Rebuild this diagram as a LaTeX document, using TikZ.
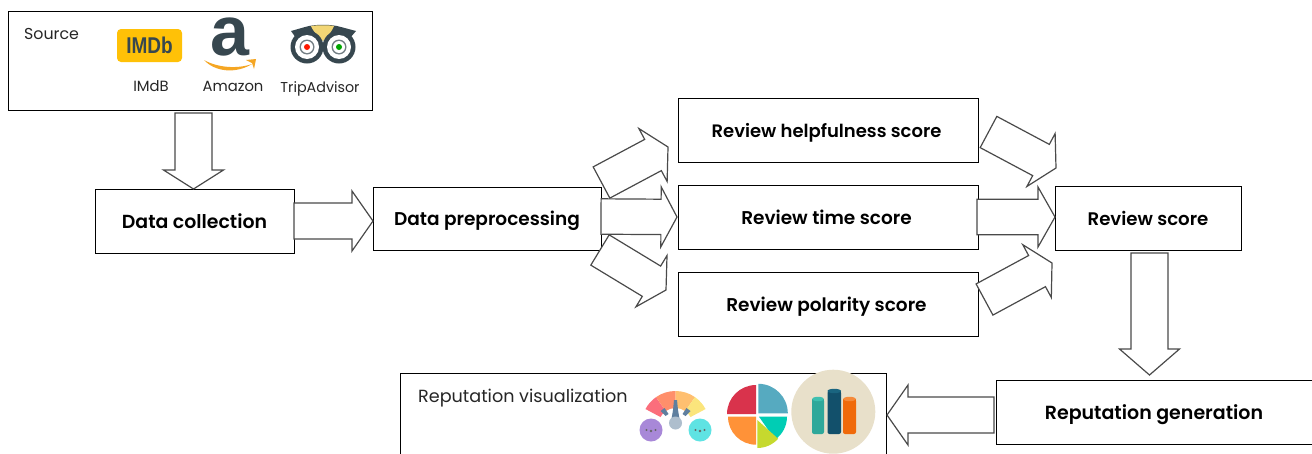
\documentclass[tikz,border=0pt]{standalone}
\usepackage{fontspec}
\setmainfont{Poppins}
\newfontfamily\boxfont{Poppins SemiBold}
\newfontfamily\logofont{Liberation Sans}
\usetikzlibrary{calc}
\definecolor{ardk}{HTML}{4A4A4A}
\definecolor{logodk}{HTML}{37474F}
\definecolor{imdbc}{HTML}{FFC107}
\definecolor{smile}{HTML}{F5A623}
\definecolor{owly}{HTML}{F2D675}
\definecolor{gaugea}{HTML}{FB6E7C}
\definecolor{gaugeb}{HTML}{FF8F6B}
\definecolor{gaugec}{HTML}{FFBF70}
\definecolor{gauged}{HTML}{FBE57C}
\definecolor{needle}{HTML}{5F7F9F}
\definecolor{hub}{HTML}{AEBECD}
\definecolor{facea}{HTML}{A888D8}
\definecolor{faceb}{HTML}{5FE3E3}
\definecolor{piea}{HTML}{D9334C}
\definecolor{pieb}{HTML}{56AAC0}
\definecolor{piec}{HTML}{FF9238}
\definecolor{pied}{HTML}{00CDB4}
\definecolor{piee}{HTML}{C6D92E}
\definecolor{disc}{HTML}{E8E0CA}
\definecolor{bara}{HTML}{2FA89A}
\definecolor{barat}{HTML}{3FC0B0}
\definecolor{barb}{HTML}{12506B}
\definecolor{barbt}{HTML}{1A6580}
\definecolor{barc}{HTML}{F06A0A}
\definecolor{barct}{HTML}{F58A3A}
\tikzset{
  box/.style={draw=black,line width=1pt,fill=white,inner sep=0pt,align=center,text height=14pt,text depth=0pt,font=\boxfont\fontsize{18.5}{20}\selectfont},
  lab/.style={inner sep=0pt,text=black!85,font=\fontsize{15.8}{18}\selectfont},
  sublab/.style={inner sep=0pt,text=black!85,font=\fontsize{14.8}{17}\selectfont},
  blockline/.style={draw=ardk,line width=1.2pt,fill=white,line join=miter},
}
\newcommand{\blockarrow}[5]{%
  \coordinate (neck) at ($(#2)!#5pt!(#1)$);
  \draw[blockline] ($(#1)!#3pt!90:(#2)$) -- ($(neck)!#3pt!-90:(#1)$) -- ($(neck)!#4pt!-90:(#1)$) -- (#2)
     -- ($(neck)!#4pt!90:(#1)$) -- ($(neck)!#3pt!90:(#1)$) -- ($(#1)!#3pt!-90:(#2)$) -- cycle;
}
\newcommand{\ringseg}[5]{%
  \fill[#5] (#1:#3) arc[start angle=#1,end angle=#2,radius=#3] -- (#2:#4) arc[start angle=#2,end angle=#1,radius=#4] -- cycle;}
\newcommand{\piesect}[6]{%
  \fill[#6] (#1,#2) -- ++(#3:#5) arc[start angle=#3,end angle=#4,radius=#5] -- cycle;}
\newcommand{\barcyl}[6]{%
  \fill[#5,rounded corners=2pt] (#1,#3) rectangle (#2,#4);
  \fill[#5] (#1,#3) rectangle (#2,#4-2);
  \fill[#6] ({(#1+#2)/2},#3) ellipse[x radius={(#2-#1)/2},y radius=2.2];}
\begin{document}
\begin{tikzpicture}[x=1pt,y=-1pt]
\useasboundingbox (0,0) rectangle (1312,453);
\clip (0,0) rectangle (1312,453);
% boxes
\node[box,minimum width=364pt,minimum height=99pt] (source) at (190,60.5) {};
\node[box,minimum width=199pt,minimum height=64pt,font=\boxfont\fontsize{18.9}{20}\selectfont] (collect) at (194.5,221) {Data collection};
\node[box,minimum width=228pt,minimum height=63pt] (prep) at (487,218.5) {Data preprocessing};
\node[box,minimum width=300pt,minimum height=64pt,font=\boxfont\fontsize{18}{20}\selectfont] (help) at (828,130) {\hspace*{-3pt}Review helpfulness score};
\node[box,minimum width=300pt,minimum height=64pt] (time) at (828,217) {\hspace*{-3pt}Review time score};
\node[box,minimum width=300pt,minimum height=64pt] (polar) at (828,304) {\hspace*{-3pt}Review polarity score};
\node[box,minimum width=186pt,minimum height=64pt,font=\boxfont\fontsize{18.2}{20}\selectfont] (score) at (1148,218) {Review score};
\node[box,minimum width=316pt,minimum height=64pt,font=\boxfont\fontsize{19}{20}\selectfont] (gen) at (1154,412) {Reputation generation};
\node[box,minimum width=486pt,minimum height=100pt] (vis) at (643,423) {};
% connector ends
\coordinate (s1) at (193.5,113); \coordinate (t1) at (193.5,189);
\coordinate (s2) at (294,221);   \coordinate (t2) at (373,221);
\coordinate (s3) at (601,216.5); \coordinate (t3) at (677,217);
\coordinate (s4) at (601.5,182.5); \coordinate (t4) at (668,147);
\coordinate (s5) at (600,250);   \coordinate (t5) at (666,290);
\coordinate (s6) at (988.5,132); \coordinate (t6) at (1056,168);
\coordinate (s7) at (977,217);   \coordinate (t7) at (1055,217);
\coordinate (s8) at (984.5,299.5); \coordinate (t8) at (1052,263);
\coordinate (s9) at (1149.5,253); \coordinate (t9) at (1149.5,375);
\coordinate (s10) at (994,415);  \coordinate (t10) at (887,415);
\blockarrow{s1}{t1}{18.5}{30}{19}
\blockarrow{s2}{t2}{18}{30}{21}
\blockarrow{s4}{t4}{17.7}{30}{17}
\blockarrow{s5}{t5}{17.7}{30}{17}
\blockarrow{s3}{t3}{17.7}{30}{16}
\blockarrow{s6}{t6}{17.7}{30}{17}
\blockarrow{s8}{t8}{17.7}{30}{17}
\blockarrow{s7}{t7}{17.7}{30}{17}
\blockarrow{s9}{t9}{18.5}{30}{26}
\blockarrow{s10}{t10}{18}{30}{21}
% labels
\node[lab,anchor=west] (lsource) at (24,34) {Source};
\node[sublab] (limdb) at (151,86) {IMdB};
\node[sublab] (lamazon) at (233,86) {Amazon};
\node[sublab,font=\fontsize{14.3}{17}\selectfont] (ltrip) at (320,89) {TripAdvisor};
\node[lab,anchor=west,font=\fontsize{17.6}{20}\selectfont] (lvis) at (418,398) {Reputation visualization};
% IMDb logo
\node[fill=imdbc,draw=none,rounded corners=4pt,minimum width=65pt,minimum height=33pt,inner sep=0pt,text=logodk,font=\logofont\fontsize{19}{20}\selectfont\bfseries] (imdb) at (149.5,45.5) {\scalebox{1}[1.2]{IMDb}};
% Amazon logo
\node[inner sep=0pt,text=logodk,font=\logofont\fontsize{70}{70}\selectfont\bfseries] (amz) at (230,37) {a};
\fill[smile] (204,60) .. controls (215,72) and (236,74) .. (252,64) .. controls (238,69) and (218,68) .. (204,60) -- cycle;
\fill[smile] (246,60) -- (256,59) -- (254,69) -- (252,63) -- cycle;
% TripAdvisor logo
\fill[logodk] (291,31) -- (305,27) .. controls (315,24) and (331,24) .. (341,27) -- (356,31) -- (350,38) -- (296,38) -- cycle;
\fill[owly] (311,26) .. controls (318,25) and (328,25) .. (334,26) .. controls (331,33) and (327,37) .. (323,41) .. controls (319,37) and (314,33) .. (311,26) -- cycle;
\foreach \cx/\dotc in {307/red!80!orange,339/green!65!black}{
  \fill[logodk] (\cx,47) circle[radius=16.5];
  \fill[white] (\cx,47) circle[radius=12];
  \fill[logodk!70] (\cx,47) circle[radius=7.5];
  \fill[white] (\cx,47) circle[radius=6];
  \fill[\dotc] (\cx,47) circle[radius=3];
}
% gauge
\begin{scope}[shift={(675.5,425)},y=1pt]
  \ringseg{152}{125}{34}{17}{gaugea}
  \ringseg{125}{90}{34}{17}{gaugeb}
  \ringseg{90}{55}{34}{17}{gaugec}
  \ringseg{55}{28}{34}{17}{gauged}
  \fill[needle] (-2.5,15) -- (-1.5,25) -- (1.5,25) -- (2.5,15) -- (5,0) -- (-5,0) -- cycle;
  \fill[needle] (-15,14) -- (-11,17) -- (-7,11) -- (-10,9) -- cycle;
  \fill[needle] (15,14) -- (11,17) -- (7,11) -- (10,9) -- cycle;
  \fill[hub] (0,2) circle[radius=6.5];
\end{scope}
\fill[facea] (651,430) circle[radius=11.5];
\fill[faceb] (700,430) circle[radius=11.5];
\foreach \cx in {651,700}{
  \fill[black!60] (\cx-4.5,430) circle[radius=1.1];
  \fill[black!60] (\cx+4.5,430) circle[radius=1.1];
  \fill[black!60] (\cx,431) circle[radius=1.3];}
% pie
\begin{scope}[shift={(757,415)},y=1pt]
  \piesect{-1}{1}{90}{180}{29}{piea}
  \piesect{1.3}{1.7}{0}{90}{29.5}{pieb}
  \piesect{-1}{-1.7}{180}{270}{28}{piec}
  \piesect{2}{-1.7}{0}{-55}{28}{pied}
  \piesect{0.3}{-5}{-42}{-90}{28}{piee}
\end{scope}
% bars
\fill[disc] (833.3,411.7) circle[radius=42];
\barcyl{812}{824}{399}{434}{bara}{barat}
\barcyl{827.5}{841}{391}{434}{barb}{barbt}
\barcyl{843}{856}{399}{434}{barc}{barct}
\end{tikzpicture}
\end{document}
